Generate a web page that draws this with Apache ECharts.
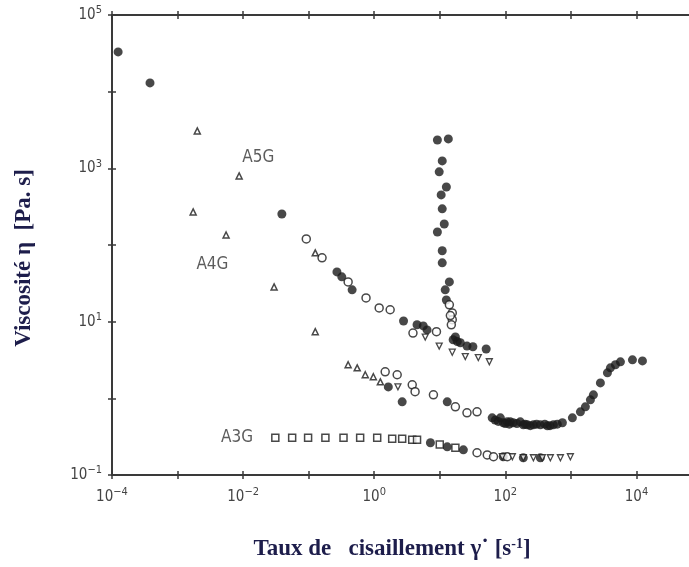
<!DOCTYPE html>
<html><head><meta charset="utf-8">
<script src="https://cdn.jsdelivr.net/npm/echarts@6/dist/echarts.min.js"></script>
<style>html,body{margin:0;padding:0;background:#fff}#c{width:689px;height:567px}</style>
</head><body><div id="c"></div>
<script>
// Shear rate [s^-1], viscosity [Pa.s]
const filledCircles = [
 [1.24e-4,33000],[3.8e-4,13000],[0.039,254],
 [0.27,44.6],[0.32,38.4],[0.46,26],[2.8,10.2],[4.5,9.1],[5.6,8.8],[6.4,7.8],[16,5.8],[20.6,5.3],[26,4.8],[32,4.7],[51,4.4],
 [9.2,2340],[13.5,2420],[10.9,1250],[9.8,900],[12.6,570],[10.5,450],[10.9,296],[11.7,188],[9.2,148],[10.9,84],[10.9,58.5],[14,33],[12.1,26],[12.6,19.2],[17.3,6.3],[18.5,5.5],
 [1.64,1.41],[2.67,0.9],[13,0.9],[63,0.557],[70,0.52],[78,0.5],[84,0.557],[93,0.48],[100,0.47],[107,0.494],[115,0.46],[119,0.494],[132,0.48],[150,0.47],[169,0.494],[188,0.451],[200,0.46],[217,0.451],[240,0.44],[268,0.451],[300,0.46],[342,0.451],[400,0.46],[438,0.438],[480,0.44],[541,0.451],[620,0.46],[742,0.48],[1054,0.557],[1397,0.667],[1664,0.774],[1985,0.955],[2206,1.11],[2820,1.59],[3608,2.15],[4009,2.5],[4779,2.74],[5698,2.99],[8690,3.18],[12350,3.08],
 [7.2,0.263],[13,0.233],[22.9,0.213],[93,0.173],[188,0.168],[342,0.168]
];
const openCircles = [
 [0.092,120],[0.16,68],[0.40,33],[0.75,20.4],[1.19,15.1],[1.75,14.3],[8.9,7.4],[3.9,7.1],[14,16.6],[15.5,13],[15.5,10.6],[15,9.1],[14.5,12],
 [1.47,2.22],[2.24,2.03],[3.8,1.5],[4.2,1.22],[8,1.11],[17.3,0.774],[37,0.667],[26,0.647],
 [37,0.195],[53,0.183],[66,0.173],[107,0.173]
];
const triangles = [
 [2.0e-3,3080],[8.7e-3,796],[1.73e-3,270],[5.5e-3,135],[0.0297,28.4],[0.126,7.4],[0.126,79],
 [0.40,2.74],[0.55,2.5],[0.73,2.03],[0.97,1.91],[1.24,1.64]
];
const squares = [
 [0.031,0.305],[0.056,0.305],[0.098,0.305],[0.18,0.305],[0.34,0.305],[0.61,0.305],[1.11,0.305],[1.88,0.296],[2.67,0.296],[3.8,0.288],[4.5,0.288],[10,0.25],[17.3,0.226]
];
const invTriangles = [
 [6.0,6.3],[9.8,4.8],[15.5,4.0],[24.5,3.5],[38.7,3.4],[57,3.0],[2.3,1.41],
 [90,0.173],[128,0.173],[188,0.168],[268,0.168],[367,0.168],[486,0.168],[692,0.168],[982,0.173]
];
const sampleLabels = [[0.017,1400,'A5G'],[0.0034,55,'A4G'],[0.0081,0.305,'A3G']];
const xMin = 1e-4, xMax = 1e5, yMin = 0.1, yMax = 1e5;
const xLabelExps = [-4,-2,0,2,4];
const yLabelExps = [-1,1,3,5];

const INK = '#1a1a1a';
const AX = '#3a3a3a';
function expFmt(list){
  return function(v){
    const e = Math.round(Math.log10(v));
    if (list.indexOf(e) < 0) return '';
    return '{b|10}{s|' + (e < 0 ? '\u2212' + (-e) : e) + '}';
  };
}
const rich = {
  b:{fontFamily:'DejaVu Sans Condensed, DejaVu Sans, sans-serif',fontSize:15,color:'#444'},
  s:{fontFamily:'DejaVu Sans Condensed, DejaVu Sans, sans-serif',fontSize:11,color:'#444',padding:[0,0,9,0]}
};
function xAx(pos, inside, labels){
  return {type:'log',logBase:10,min:xMin,max:xMax,interval:1,position:pos,
    axisLine:{show:true,lineStyle:{color:AX,width:2}},
    axisTick:{show:true,inside:inside,length:4,lineStyle:{color:AX,width:1.5}},
    axisLabel:{show:labels,margin:12,formatter:expFmt(xLabelExps),rich:rich},
    splitLine:{show:false},minorTick:{show:false}};
}
function yAx(pos, inside, labels){
  return {type:'log',logBase:10,min:yMin,max:yMax,interval:1,position:pos,
    axisLine:{show:true,lineStyle:{color:AX,width:2}},
    axisTick:{show:true,inside:inside,length:4,lineStyle:{color:AX,width:1.5}},
    axisLabel:{show:labels,margin:10,formatter:expFmt(yLabelExps),rich:rich},
    splitLine:{show:false},minorTick:{show:false}};
}
const invTri = 'path://M0,0 L10,0 L5,9 Z';
const chart = echarts.init(document.getElementById('c'), null, {renderer:'canvas'});
chart.setOption({
  animation:false,
  backgroundColor:'#fff',
  grid:{left:112,top:15,width:590,height:460,containLabel:false,outerBoundsMode:'none'},
  xAxis:[xAx('bottom',false,true),xAx('bottom',true,false),xAx('top',false,false),xAx('top',true,false)],
  yAxis:[yAx('left',false,true),yAx('left',true,false)],
  series:[
    {type:'scatter',data:filledCircles,symbol:'circle',symbolSize:9,itemStyle:{color:INK}},
    {type:'scatter',data:openCircles,symbol:'circle',symbolSize:8,itemStyle:{color:'#fff',borderColor:INK,borderWidth:1.5}},
    {type:'scatter',data:triangles,symbol:'triangle',symbolSize:6,itemStyle:{color:'#fff',borderColor:INK,borderWidth:1.5}},
    {type:'scatter',data:squares,symbol:'rect',symbolSize:7,itemStyle:{color:'#fff',borderColor:INK,borderWidth:1.5}},
    {type:'scatter',data:invTriangles,symbol:invTri,symbolSize:[6,6],itemStyle:{color:'#fff',borderColor:INK,borderWidth:1.3}},
    {type:'scatter',data:sampleLabels.map(d=>({value:[d[0],d[1]],name:d[2]})),symbolSize:0,silent:true,
     label:{show:true,position:'inside',formatter:p=>p.name,color:'#333',fontSize:17,
       fontFamily:'Liberation Sans Narrow, DejaVu Sans Condensed, sans-serif'}}
  ],
  graphic:[
    {type:'text',x:24,y:258,rotation:Math.PI/2,style:{text:'Viscosité η  [Pa. s]',fill:'#1d1d4b',
      font:'bold 23px "Liberation Serif", "Times New Roman", serif',textAlign:'center',textVerticalAlign:'middle'}},
    {type:'text',x:392,y:549,style:{
      text:'{t|Taux de   cisaillement γ˙ [s}{u|-1}{t|]}',
      rich:{t:{font:'bold 23px "Liberation Serif", "Times New Roman", serif',fill:'#1d1d4b'},
            u:{font:'bold 14px "Liberation Serif", "Times New Roman", serif',fill:'#1d1d4b',padding:[0,0,10,0]}},
      textAlign:'center',textVerticalAlign:'middle'}}
  ]
});
</script></body></html>
